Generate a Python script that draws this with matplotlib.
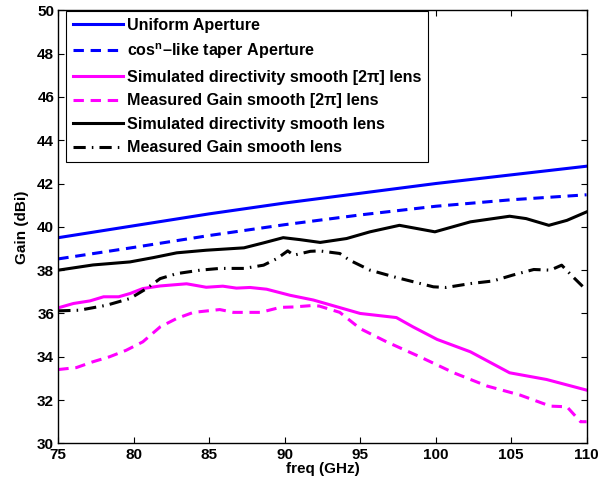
import matplotlib
matplotlib.use("Agg")
import matplotlib.pyplot as plt
import numpy as np

plt.rcParams["font.family"] = ["Liberation Sans", "DejaVu Sans"]
plt.rcParams["font.weight"] = "bold"
plt.rcParams["mathtext.fontset"] = "custom"
plt.rcParams["mathtext.rm"] = "Liberation Sans:bold"
plt.rcParams["mathtext.it"] = "Liberation Sans:bold:italic"
plt.rcParams["mathtext.bf"] = "Liberation Sans:bold"

# Ideal apertures
f_ap = [75, 80, 85, 90, 95, 100, 105, 110]
uniform = [39.5, 40.05, 40.6, 41.1, 41.55, 42.0, 42.4, 42.8]
taper = [38.52, 39.05, 39.6, 40.1, 40.55, 40.95, 41.25, 41.48]

# Simulated directivity, smooth [2pi] lens
f_sim2pi = [75, 76.0, 77.1, 78.0, 79.0, 79.75, 80.6, 81.75, 83.5, 84.8, 85.9, 86.8,
            87.7, 88.8, 90.35, 91.9, 93.65, 95.0, 97.4, 98.5, 100.1, 102.3, 104.9,
            107.35, 110]
sim2pi = [36.26, 36.46, 36.58, 36.77, 36.77, 36.92, 37.15, 37.27, 37.37, 37.21, 37.26,
          37.17, 37.2, 37.12, 36.84, 36.62, 36.27, 36.0, 35.81, 35.38, 34.8, 34.23,
          33.26, 32.95, 32.46]

# Measured gain, smooth [2pi] lens
f_meas2pi = [75, 76.2, 77.3, 78.4, 79.5, 80.6, 81.75, 82.85, 83.95, 85.7, 86.6, 88.4,
             89.7, 90.6, 91.9, 92.3, 93.65, 95.0, 96.75, 98.95, 101.2, 103.4, 105.6,
             107.6, 108.7, 109.6, 110]
meas2pi = [33.41, 33.5, 33.77, 34.0, 34.3, 34.69, 35.38, 35.77, 36.05, 36.18, 36.05,
           36.05, 36.28, 36.3, 36.37, 36.34, 36.05, 35.3, 34.69, 34.0, 33.26, 32.65,
           32.23, 31.72, 31.69, 31.0, 31.0]

# Simulated directivity, smooth lens
f_sim = [75, 77.3, 79.75, 81.3, 82.85, 84.8, 87.3, 88.6, 89.9, 91.0, 92.35, 94.1,
         95.65, 97.6, 99.95, 102.3, 104.9, 106.0, 107.5, 108.7, 110]
sim = [38.0, 38.24, 38.38, 38.58, 38.8, 38.92, 39.03, 39.26, 39.5, 39.41, 39.28, 39.46,
       39.77, 40.07, 39.77, 40.23, 40.49, 40.38, 40.07, 40.3, 40.69]

# Measured gain, smooth lens
f_meas = [75, 76.4, 78.2, 79.75, 80.85, 81.75, 82.85, 84.4, 85.7, 87.3, 88.6, 89.5,
          90.2, 90.6, 91.7, 92.3, 93.65, 94.3, 95.65, 97.4, 99.85, 100.7, 102.3, 103.8,
          105.1, 106.5, 107.6, 108.35, 109.1, 110]
meas = [36.12, 36.15, 36.38, 36.69, 37.15, 37.61, 37.84, 38.0, 38.08, 38.08, 38.23,
        38.54, 38.89, 38.69, 38.87, 38.89, 38.77, 38.46, 38.0, 37.66, 37.23, 37.2, 37.38,
        37.5, 37.77, 38.03, 38.0, 38.23, 37.69, 37.07]

fig = plt.figure(figsize=(6.01, 4.91), dpi=100)
ax = fig.add_axes([0.097, 0.097, 0.879, 0.882])

lw = 2.2
dashed = (0, (3.4, 2.2))
dashdot = (0, (4.0, 2.0, 0.5, 2.0))
ax.plot(f_ap, uniform, color="#0000ff", lw=lw, label="Uniform Aperture")
ax.plot(f_ap, taper, color="#0000ff", lw=lw, ls=dashed,
        label=r"cos$^{\mathrm{n}}$–like taper Aperture")
ax.plot(f_sim2pi, sim2pi, color="#ff00ff", lw=lw,
        label="Simulated directivity smooth [2π] lens")
ax.plot(f_meas2pi, meas2pi, color="#ff00ff", lw=lw, ls=dashed,
        label="Measured Gain smooth [2π] lens")
ax.plot(f_sim, sim, color="black", lw=lw, label="Simulated directivity smooth lens")
ax.plot(f_meas, meas, color="black", lw=lw, ls=dashdot,
        label="Measured Gain smooth lens")

ax.set_xlim(75, 110)
ax.set_ylim(30, 50)
ax.set_xticks(np.arange(75, 111, 5))
ax.set_yticks(np.arange(30, 51, 2))
ax.tick_params(direction="in", top=True, right=True, labelsize=11, length=4,
               width=0.8, pad=3)
for lab in ax.get_xticklabels() + ax.get_yticklabels():
    lab.set_fontweight("bold")
for sp in ax.spines.values():
    sp.set_linewidth(1.0)

ax.set_xlabel("freq (GHz)", fontsize=11, fontweight="bold", labelpad=0)
ax.set_ylabel("Gain (dBi)", fontsize=11, fontweight="bold", labelpad=6)

leg = ax.legend(loc="upper left", bbox_to_anchor=(0.015, 0.998), fontsize=11.6,
                handlelength=3.1, handletextpad=0.25, labelspacing=0.53,
                borderpad=0.42, fancybox=False, framealpha=1, edgecolor="black",
                borderaxespad=0)
leg.get_frame().set_linewidth(0.8)
for t in leg.get_texts():
    t.set_fontweight("bold")

fig.savefig("out.png", dpi=100)
